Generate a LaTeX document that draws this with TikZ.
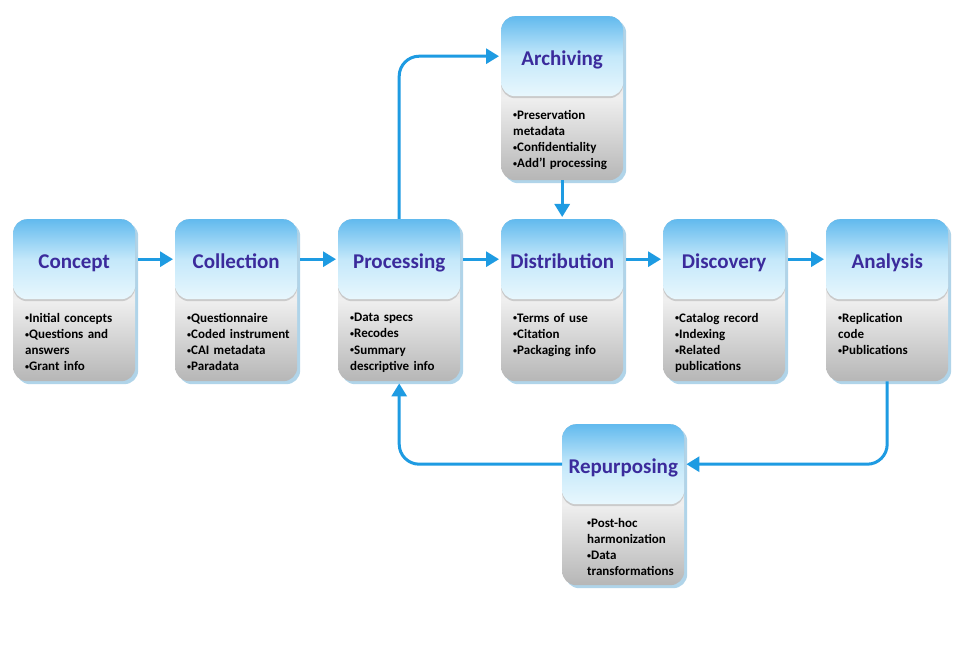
\documentclass[tikz,border=0pt]{standalone}
\usepackage{fontspec}
\setmainfont{Carlito}
\usetikzlibrary{arrows.meta,shadows}
\definecolor{flowblue}{HTML}{1E9BE2}
\definecolor{titlecol}{HTML}{3B2B9C}
\definecolor{bluetop}{HTML}{62BAEE}
\definecolor{bluemid}{HTML}{C4E8FA}
\definecolor{bluebot}{HTML}{E8F7FD}
\definecolor{graytop}{HTML}{D2D2D2}
\definecolor{graymid}{HTML}{EFEFEF}
\definecolor{graybot}{HTML}{B6B6B6}
\definecolor{shadowcol}{HTML}{8FC3E0}
\newcommand{\bul}{\raisebox{1.5pt}{\fontsize{8}{8}\selectfont\textbullet}}
\tikzset{
  stagebody/.style={anchor=north west, minimum width=122pt, minimum height=#1, rounded corners=14pt,
    top color=graytop, bottom color=graybot, middle color=graymid, inner sep=0pt,
    drop shadow={shadow xshift=3pt, shadow yshift=-3pt, fill=shadowcol, opacity=0.7}},
  stagetop/.style={anchor=north west, minimum width=122pt, minimum height=80pt, rounded corners=14pt,
    top color=bluetop, bottom color=bluebot, middle color=bluemid, inner sep=0pt,
    drop shadow={shadow xshift=0pt, shadow yshift=-2pt, fill=black, opacity=0.15},
    text height=20pt, text depth=2pt,
    font=\fontsize{21}{24}\selectfont\bfseries, text=titlecol},
  bullets/.style={anchor=north west, text width=112pt, align=left, inner sep=0pt,
    font=\fontsize{13}{16.2}\selectfont\bfseries, text=black},
  flow/.style={draw=flowblue, line width=3pt, -{Triangle[length=13pt,width=15pt]}}
}
\begin{document}
\begin{tikzpicture}[x=1pt,y=-1pt]
\useasboundingbox[fill=white] (0,0) rectangle (961,663);
% Concept
\node[stagebody=162pt] (conc) at (13,219) {};
\node[stagetop] (conct) at (13,219) {Concept};
\node[bullets] (concb) at (25,313) {\bul Initial concepts\\\bul Questions and\\answers\\\bul Grant info};
% Collection
\node[stagebody=162pt] (coll) at (175,219) {};
\node[stagetop] (collt) at (175,219) {Collection};
\node[bullets] (collb) at (187,313) {\bul Questionnaire\\\bul Coded instrument\\\bul CAI metadata\\\bul Paradata};
% Processing
\node[stagebody=162pt] (proc) at (338,219) {};
\node[stagetop] (proct) at (338,219) {Processing};
\node[bullets] (procb) at (350,313) {\bul Data specs\\\bul Recodes\\\bul Summary\\descriptive info};
% Distribution
\node[stagebody=162pt] (dist) at (501,219) {};
\node[stagetop] (distt) at (501,219) {Distribution};
\node[bullets] (distb) at (513,313) {\bul Terms of use\\\bul Citation\\\bul Packaging info};
% Discovery
\node[stagebody=162pt] (disc) at (663,219) {};
\node[stagetop] (disct) at (663,219) {Discovery};
\node[bullets] (discb) at (675,313) {\bul Catalog record\\\bul Indexing\\\bul Related\\publications};
% Analysis
\node[stagebody=162pt] (anal) at (826,219) {};
\node[stagetop] (analt) at (826,219) {Analysis};
\node[bullets] (analb) at (838,313) {\bul Replication\\code\\\bul Publications};
% Archiving
\node[stagebody=164pt] (arch) at (501,16) {};
\node[stagetop] (archt) at (501,16) {Archiving};
\node[bullets] (archb) at (513,110) {\bul Preservation\\metadata\\\bul Confidentiality\\\bul Add'l processing};
% Repurposing
\node[stagebody=161pt] (repu) at (562,424) {};
\node[stagetop] (reput) at (562,424) {Repurposing};
\node[bullets] (repub) at (587,518) {\bul Post-hoc\\harmonization\\\bul Data\\transformations};
% connectors
\draw[flow] ([xshift=3pt]conct.east) -- ([xshift=-2pt]collt.west);
\draw[flow] ([xshift=3pt]collt.east) -- ([xshift=-2pt]proct.west);
\draw[flow] ([xshift=3pt]proct.east) -- ([xshift=-2pt]distt.west);
\draw[flow] ([xshift=3pt]distt.east) -- ([xshift=-2pt]disct.west);
\draw[flow] ([xshift=3pt]disct.east) -- ([xshift=-2pt]analt.west);
\draw[flow, rounded corners=20pt] (proc.north) |- ([xshift=-2pt]archt.west);
\draw[flow] (arch.south) -- ([yshift=2pt]dist.north);
\draw[flow, rounded corners=20pt] (anal.south) |- ([xshift=2pt]reput.east);
\draw[flow, rounded corners=20pt] (reput.west) -| ([yshift=-2pt]proc.south);
\end{tikzpicture}
\end{document}
